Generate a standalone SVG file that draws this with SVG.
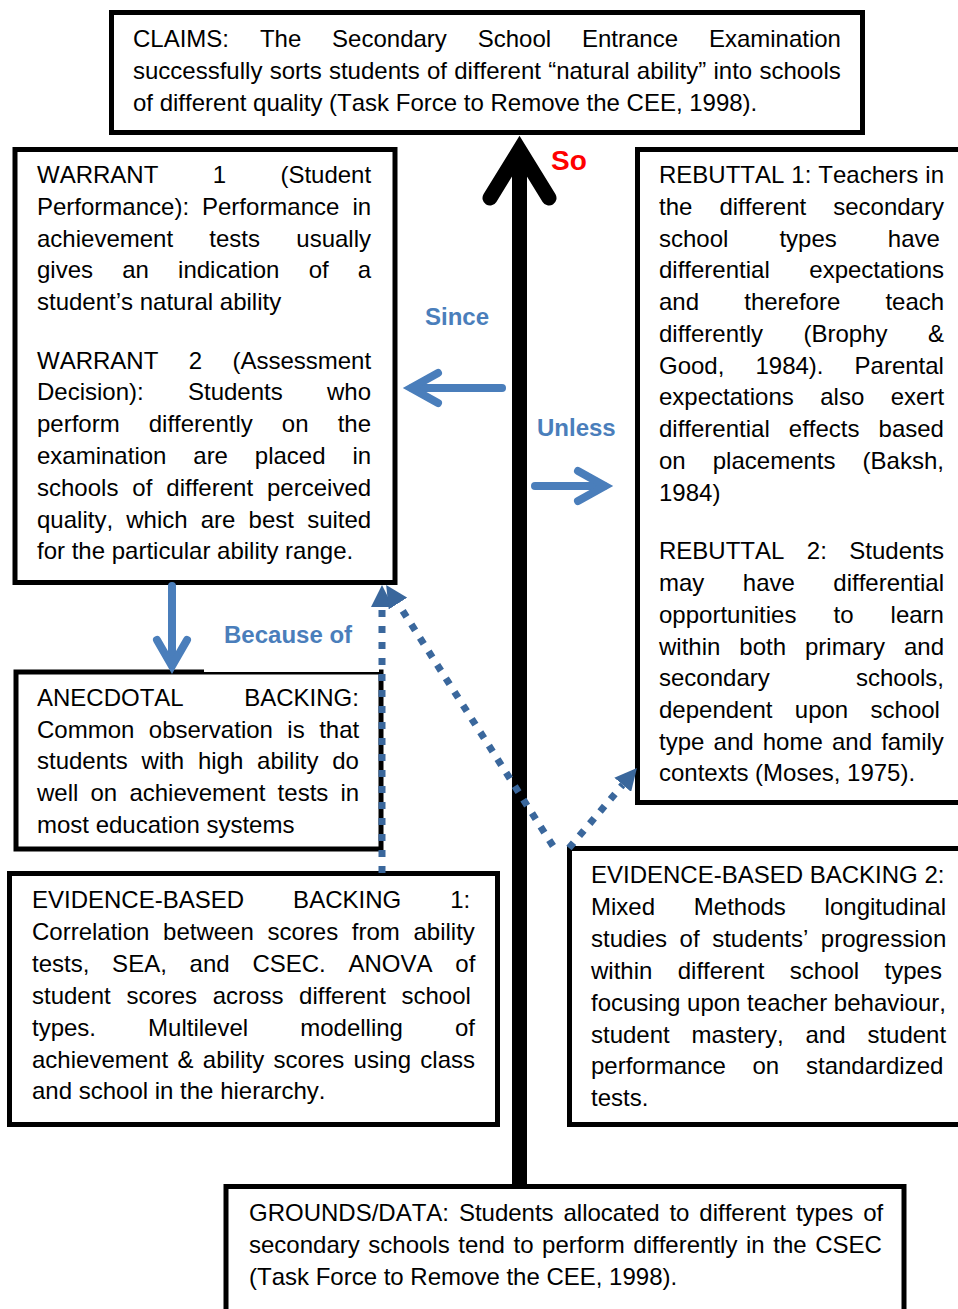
<svg xmlns="http://www.w3.org/2000/svg" width="958" height="1309" viewBox="0 0 958 1309">
<style>
.box{fill:#fff;stroke:#000;stroke-width:5}
.t{font-family:"Liberation Sans",Arial,sans-serif;font-size:24px;fill:#000;font-kerning:none}
.lbl{font-family:"Liberation Sans",Arial,sans-serif;font-size:24px;font-weight:bold;fill:#4A7EBB}
.so{font-family:"Liberation Sans",Arial,sans-serif;font-size:28px;font-weight:bold;fill:#FF0000}
.blue{fill:none;stroke:#4A7EBB;stroke-width:8;stroke-linecap:round;stroke-linejoin:miter}
.dot{fill:none;stroke:#3A679C;stroke-width:7;stroke-dasharray:7 9}
</style>
<defs>
<marker id="dotHead" markerUnits="userSpaceOnUse" viewBox="0 0 22 22" refX="0" refY="11" markerWidth="22" markerHeight="22" orient="auto">
<path d="M0,0 L22,11 L0,22 Z" fill="#3A679C"/>
</marker>
</defs>
<rect width="958" height="1309" fill="#fff"/>

<g id="claims">
<rect class="box" x="111.5" y="12.5" width="751" height="120"/>
<text class="t" x="133" y="47" word-spacing="24.2">CLAIMS: The Secondary School Entrance Examination</text>
<text class="t" x="133" y="79" word-spacing="0.6">successfully sorts students of different “natural ability” into schools</text>
<text class="t" x="133" y="111">of different quality (Task Force to Remove the CEE, 1998).</text>
</g>

<g id="warrant">
<rect class="box" x="15" y="149.5" width="380" height="433"/>
<text class="t" x="37" y="183" word-spacing="47.7">WARRANT 1 (Student</text>
<text class="t" x="37" y="215" word-spacing="6.3">Performance): Performance in</text>
<text class="t" x="37" y="247" word-spacing="29.6">achievement tests usually</text>
<text class="t" x="37" y="278" word-spacing="22.5">gives an indication of a</text>
<text class="t" x="37" y="310">student’s natural ability</text>
<text class="t" x="37" y="369" word-spacing="23.7">WARRANT 2 (Assessment</text>
<text class="t" x="37" y="400" word-spacing="37.6">Decision): Students who</text>
<text class="t" x="37" y="432" word-spacing="22.4">perform differently on the</text>
<text class="t" x="37" y="464" word-spacing="20.2">examination are placed in</text>
<text class="t" x="37" y="496" word-spacing="7.3">schools of different perceived</text>
<text class="t" x="37" y="528" word-spacing="6.5">quality, which are best suited</text>
<text class="t" x="37" y="559">for the particular ability range.</text>
</g>

<g id="rebuttal">
<rect class="box" x="637.5" y="149.5" width="330" height="653"/>
<text class="t" x="659" y="183" word-spacing="0.3">REBUTTAL 1: Teachers in</text>
<text class="t" x="659" y="215" word-spacing="20.4">the different secondary</text>
<text class="t" x="659" y="247" word-spacing="44.4">school types have</text>
<text class="t" x="659" y="278" word-spacing="32.9">differential expectations</text>
<text class="t" x="659" y="310" word-spacing="38.5">and therefore teach</text>
<text class="t" x="659" y="342" word-spacing="33.8">differently (Brophy &amp;</text>
<text class="t" x="659" y="374" word-spacing="24.4">Good, 1984). Parental</text>
<text class="t" x="659" y="405" word-spacing="19.8">expectations also exert</text>
<text class="t" x="659" y="437" word-spacing="12.4">differential effects based</text>
<text class="t" x="659" y="469" word-spacing="20.4">on placements (Baksh,</text>
<text class="t" x="659" y="501">1984)</text>
<text class="t" x="659" y="559" word-spacing="15.8">REBUTTAL 2: Students</text>
<text class="t" x="659" y="591" word-spacing="31.8">may have differential</text>
<text class="t" x="659" y="623" word-spacing="30.4">opportunities to learn</text>
<text class="t" x="659" y="655" word-spacing="12.3">within both primary and</text>
<text class="t" x="659" y="686" word-spacing="79.6">secondary schools,</text>
<text class="t" x="659" y="718" word-spacing="15.7">dependent upon school</text>
<text class="t" x="659" y="750" word-spacing="2.5">type and home and family</text>
<text class="t" x="659" y="781">contexts (Moses, 1975).</text>
</g>

<g id="anecdotal">
<rect class="box" x="16" y="672" width="365" height="177"/>
<text class="t" x="37" y="706" word-spacing="53.9">ANECDOTAL BACKING:</text>
<text class="t" x="37" y="738" word-spacing="7.8">Common observation is that</text>
<text class="t" x="37" y="769" word-spacing="7.1">students with high ability do</text>
<text class="t" x="37" y="801" word-spacing="5.5">well on achievement tests in</text>
<text class="t" x="37" y="833">most education systems</text>
</g>

<g id="evidence1">
<rect class="box" x="9.5" y="873.5" width="488" height="251"/>
<text class="t" x="32" y="908" word-spacing="42.4">EVIDENCE-BASED BACKING 1:</text>
<text class="t" x="32" y="940" word-spacing="7.0">Correlation between scores from ability</text>
<text class="t" x="32" y="972" word-spacing="16.1">tests, SEA, and CSEC. ANOVA of</text>
<text class="t" x="32" y="1004" word-spacing="9.0">student scores across different school</text>
<text class="t" x="32" y="1036" word-spacing="45.4">types. Multilevel modelling of</text>
<text class="t" x="32" y="1068" word-spacing="2.7">achievement &amp; ability scores using class</text>
<text class="t" x="32" y="1099">and school in the hierarchy.</text>
</g>

<g id="evidence2">
<rect class="box" x="569.5" y="848.5" width="400" height="276"/>
<text class="t" x="591" y="883">EVIDENCE-BASED BACKING 2:</text>
<text class="t" x="591" y="915" word-spacing="32.1">Mixed Methods longitudinal</text>
<text class="t" x="591" y="947" word-spacing="5.9">studies of students’ progression</text>
<text class="t" x="591" y="979" word-spacing="18.7">within different school types</text>
<text class="t" x="591" y="1011">focusing upon teacher behaviour,</text>
<text class="t" x="591" y="1043" word-spacing="15.2">student mastery, and student</text>
<text class="t" x="591" y="1074" word-spacing="20.1">performance on standardized</text>
<text class="t" x="591" y="1106">tests.</text>
</g>

<g id="grounds">
<rect class="box" x="226" y="1186.5" width="678" height="140"/>
<text class="t" x="249" y="1221" word-spacing="3.2">GROUNDS/DATA: Students allocated to different types of</text>
<text class="t" x="249" y="1253" word-spacing="1.9">secondary schools tend to perform differently in the CSEC</text>
<text class="t" x="249" y="1285">(Task Force to Remove the CEE, 1998).</text>
</g>

<g id="connectors">
<rect x="204" y="598" width="175" height="74" fill="#fff"/>
<path d="M519.5,1186 V160" stroke="#000" stroke-width="15" fill="none"/>
<polyline points="490,198 519.5,150 549,198" fill="none" stroke="#000" stroke-width="15" stroke-linecap="round" stroke-linejoin="miter"/>
<path class="blue" d="M502,388 H412"/>
<polyline class="blue" points="438,373 411,388 438,403"/>
<path class="blue" d="M535,486 H604"/>
<polyline class="blue" points="578,471 605,486 578,501"/>
<path class="blue" d="M172,586 V664"/>
<polyline class="blue" points="157,640 172,666 187,640"/>
<path class="dot" d="M382,873 V607" marker-end="url(#dotHead)"/>
<path class="dot" d="M553,846 L398,603.5" marker-end="url(#dotHead)"/>
<path class="dot" d="M569,848 L622.7,784.8" marker-end="url(#dotHead)"/>
</g>

<g id="labels">
<text class="so" x="551" y="170">So</text>
<text class="lbl" x="425" y="325">Since</text>
<text class="lbl" x="537" y="436">Unless</text>
<text class="lbl" x="224" y="643">Because of</text>
</g>
</svg>
